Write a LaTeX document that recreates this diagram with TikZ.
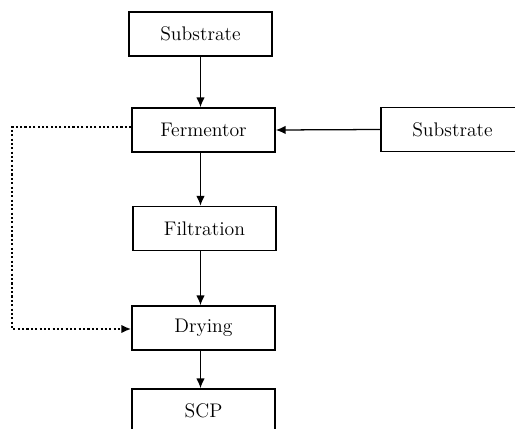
\documentclass[tikz,border=0pt]{standalone}
\usepackage[]{tikz}
\usetikzlibrary{arrows.meta}

\begin{document}
\begin{tikzpicture}[x=0.025cm, y=-0.025cm,
    box/.style={draw, line width=1.1pt, minimum width=143*0.025cm, minimum height=44*0.025cm, inner sep=0pt, font=\fontsize{14}{16}\selectfont},
    flow/.style={line width=0.9pt, -{Latex[length=7pt, width=6pt]}},
    recycle/.style={line width=1.5pt, dash pattern=on 1.5pt off 1.6pt, -{Latex[length=7pt, width=6pt]}}]
              % Page size
              \useasboundingbox (0,0) rectangle (515,429);
              \clip (0,0) rectangle (515,429);
              % Process boxes
              \node[box] (sub) at (200.5,34) {Substrate};
              \node[box] (ferm) at (203.5,130) {Fermentor};
              \node[box] (feed) at (452.5,129.5) {Substrate};
              \node[box] (filt) at (204.5,228.5) {Filtration};
              \node[box] (dry) at (203.5,328) {Drying};
              \node[box] (scp) at (203.5,411) {SCP};
              % Main flow
              \draw[flow] (sub.south) -- (sub.south |- ferm.north);
              \draw[flow] (feed.west) -- (ferm.east);
              \draw[flow] (ferm.south -| sub.south) -- (filt.north -| sub.south);
              \draw[flow] (filt.south -| sub.south) -- (dry.north -| sub.south);
              \draw[flow] (dry.south -| sub.south) -- (scp.north -| sub.south);
              % Dotted bypass
              \coordinate (turn) at (12,127);
              \draw[recycle] (ferm.west |- turn) -- (turn) |- ([yshift=-1*0.025cm]dry.west);

      \end{tikzpicture}
\end{document}
